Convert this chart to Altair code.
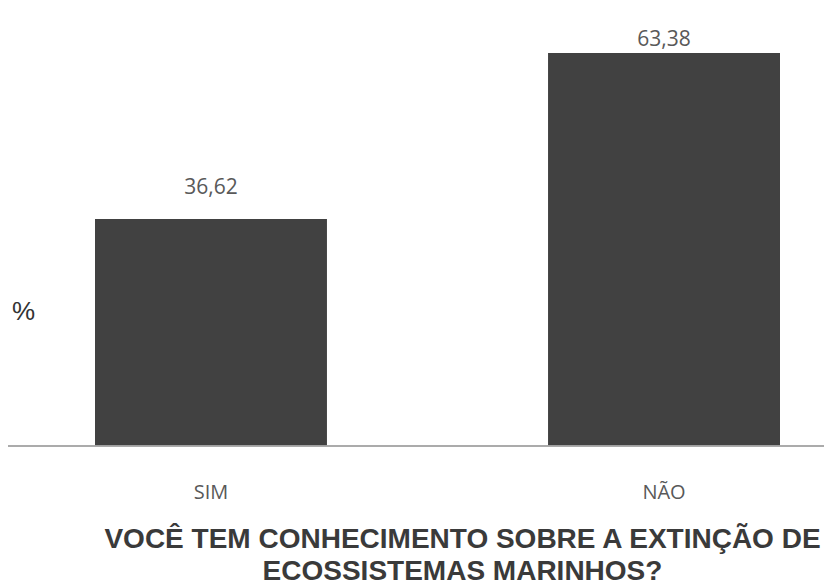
import altair as alt
import pandas as pd

categories = ["SIM", "NÃO"]
values = [36.62, 63.38]
labels = ["36,62", "63,38"]
y_axis_title = "%"
title_lines = ["VOCÊ TEM CONHECIMENTO SOBRE A EXTINÇÃO DE", "ECOSSISTEMAS MARINHOS?"]

df = pd.DataFrame({"cat": categories, "val": values, "lab": labels})

W, H = 685, 393

base = alt.Chart(df).encode(
    x=alt.X("cat:N", sort=categories,
            scale=alt.Scale(paddingInner=0.488, paddingOuter=0),
            axis=alt.Axis(title=None, labelAngle=0, ticks=False, domain=False,
                          labelFont="Open Sans", labelFontSize=20, labelColor="#595959",
                          labelPadding=36)),
)

yscale = alt.Scale(domain=[0, 63.38], nice=False, zero=True)

bars = base.mark_bar(color="#414141").encode(
    y=alt.Y("val:Q", scale=yscale,
            axis=alt.Axis(title=y_axis_title, titleAngle=0, labels=False, ticks=False,
                          domain=False, grid=False, titleFont="Liberation Sans",
                          titleFontSize=26, titleFontWeight="normal", titleColor="#333333",
                          titleX=-72, titleY=271, titleAlign="center"))
)

# label placed above bar, kept inside the chart area (as the spreadsheet does)
text = base.transform_calculate(
    ly="min(datum.val + 5, 65.5)"
).mark_text(font="Open Sans", fontSize=21, color="#595959",
            baseline="middle").encode(
    y=alt.Y("ly:Q", scale=yscale), text="lab:N"
)

baseline = alt.Chart(df).mark_rule(color="#a6a6a6", strokeWidth=1.5).encode(
    x=alt.value(-87), x2=alt.value(W + 44), y=alt.value(H)
)

chart = alt.layer(bars, text, baseline).properties(
    width=W, height=H,
    autosize=alt.AutoSizeParams(type="none"),
    padding={"left": 95, "top": 53, "right": 44, "bottom": 141},
    background="white",
    title=alt.TitleParams(text=title_lines, orient="bottom", anchor="middle",
                          font="Liberation Sans", fontSize=28, fontWeight="bold",
                          color="#3a3a3a", offset=24, dx=25, lineHeight=32),
).configure_view(stroke=None)

chart.save("out.html", embed_options={"renderer": "svg", "actions": False})
